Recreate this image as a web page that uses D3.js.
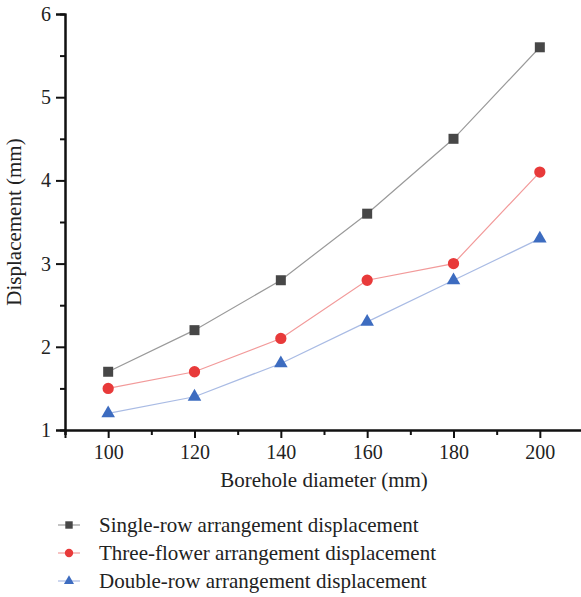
<!DOCTYPE html>
<html>
<head>
  <style>
    body { margin: 0; background: #fff; }
    text { font-family: "Liberation Serif", "DejaVu Serif", serif; fill: #222; }
  </style>
</head>
<body>
  <svg id="chart"></svg>
  <script src="https://d3js.org/d3.v7.min.js"></script>
  <script>
    // chart values
    const diameters = [100, 120, 140, 160, 180, 200];
    const singleRow = [1.7, 2.2, 2.8, 3.6, 4.5, 5.6];
    const threeFlower = [1.5, 1.7, 2.1, 2.8, 3.0, 4.1];
    const doubleRow = [1.2, 1.4, 1.8, 2.3, 2.8, 3.3];
    const yTicks = [1, 2, 3, 4, 5, 6];
    const seriesNames = [
      'Single-row arrangement displacement',
      'Three-flower arrangement displacement',
      'Double-row arrangement displacement'
    ];

    const series = [
      { name: seriesNames[0], values: singleRow, shape: d3.symbolSquare, fill: '#474747', line: '#9a9a9a', size: 100 },
      { name: seriesNames[1], values: threeFlower, shape: d3.symbolCircle, fill: '#e83a3a', line: '#f29a9a', size: 100 },
      { name: seriesNames[2], values: doubleRow, shape: d3.symbolTriangle, fill: '#3d6cc0', line: '#a9bbe4', size: 80 }
    ];

    const W = 581, H = 597;
    const svg = d3.select('#chart').attr('width', W).attr('height', H);

    const x = d3.scaleLinear().domain([90, 210]).range([65, 583]);
    const y = d3.scaleLinear().domain([1, 6]).range([430, 14]);

    // axes
    const yAxis = d3.axisLeft(y).tickValues(yTicks).tickSize(9).tickPadding(5).tickFormat(d3.format('d'));
    const yMinor = d3.axisLeft(y).tickValues([1.5, 2.5, 3.5, 4.5, 5.5]).tickSize(5).tickFormat('');
    const xAxis = d3.axisBottom(x).tickValues(diameters).tickSize(8).tickPadding(7).tickFormat(d3.format('d'));
    const xMinor = d3.axisBottom(x).tickValues([90, 110, 130, 150, 170, 190]).tickSize(5).tickFormat('');

    function styleAxis(g) {
      g.attr('font-family', null);
      g.select('.domain').attr('stroke', '#111').attr('stroke-width', 2);
      g.selectAll('.tick line').attr('stroke', '#111').attr('stroke-width', 2);
      g.selectAll('.tick text').style('font-size', '20px').attr('fill', '#222');
    }

    svg.append('g').attr('transform', `translate(${x(90)},0)`).call(yMinor).call(styleAxis);
    svg.append('g').attr('transform', `translate(${x(90)},0)`).call(yAxis).call(styleAxis);
    svg.append('g').attr('transform', `translate(0,${y(1)})`).call(xMinor).call(styleAxis);
    svg.append('g').attr('transform', `translate(0,${y(1)})`).call(xAxis).call(styleAxis);

    // axis titles
    svg.append('text')
      .attr('x', 324).attr('y', 487)
      .attr('text-anchor', 'middle')
      .style('font-size', '21px')
      .text('Borehole diameter (mm)');

    svg.append('text')
      .attr('transform', 'translate(21,222) rotate(-90)')
      .attr('text-anchor', 'middle')
      .style('font-size', '21px')
      .text('Displacement (mm)');

    // lines and markers
    const line = d3.line().x((d, i) => x(diameters[i])).y(d => y(d));

    series.forEach(function(s) {
      svg.append('path')
        .datum(s.values)
        .attr('d', line)
        .attr('fill', 'none')
        .attr('stroke', s.line)
        .attr('stroke-width', 1.2);

      svg.selectAll(null)
        .data(s.values)
        .enter()
        .append('path')
        .attr('d', d3.symbol().type(s.shape).size(s.size))
        .attr('transform', (d, i) => `translate(${x(diameters[i])},${y(d)})`)
        .attr('fill', s.fill);
    });

    // legend
    const legend = svg.append('g');
    series.forEach(function(s, i) {
      const ly = 525 + i * 28;
      legend.append('line')
        .attr('x1', 58).attr('x2', 80).attr('y1', ly).attr('y2', ly)
        .attr('stroke', s.line).attr('stroke-width', 1.2);
      legend.append('path')
        .attr('d', d3.symbol().type(s.shape).size(s.size * 0.55))
        .attr('transform', `translate(69,${ly})`)
        .attr('fill', s.fill);
      legend.append('text')
        .attr('x', 99).attr('y', ly + 7)
        .style('font-size', '21px')
        .text(s.name);
    });
  </script>
</body>
</html>
